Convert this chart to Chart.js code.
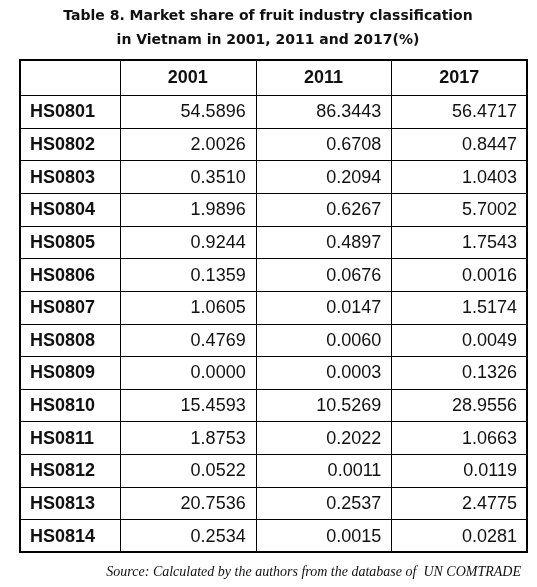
<!DOCTYPE html>
<html><head><meta charset="utf-8">
<script src="https://cdn.jsdelivr.net/npm/chart.js@4"></script>
<style>html,body{margin:0;padding:0;background:#fff}</style>
</head><body>
<canvas id="c" width="537" height="587" style="width:537px;height:587px"></canvas>
<script>
const titleLines = ["Table 8. Market share of fruit industry classification", "in Vietnam in 2001, 2011 and 2017(%)"];
const sourceText = "Source: Calculated by the authors from the database of  UN COMTRADE";
const years = ["2001", "2011", "2017"];
const codes = ["HS0801","HS0802","HS0803","HS0804","HS0805","HS0806","HS0807","HS0808","HS0809","HS0810","HS0811","HS0812","HS0813","HS0814"];
const share2001 = ["54.5896","2.0026","0.3510","1.9896","0.9244","0.1359","1.0605","0.4769","0.0000","15.4593","1.8753","0.0522","20.7536","0.2534"];
const share2011 = ["86.3443","0.6708","0.2094","0.6267","0.4897","0.0676","0.0147","0.0060","0.0003","10.5269","0.2022","0.0011","0.2537","0.0015"];
const share2017 = ["56.4717","0.8447","1.0403","5.7002","1.7543","0.0016","1.5174","0.0049","0.1326","28.9556","1.0663","0.0119","2.4775","0.0281"];
const columns = [share2001, share2011, share2017];

const tablePlugin = {
  id: 'table',
  afterDraw(chart) {
    const ctx = chart.ctx, xs = chart.scales.x, ys = chart.scales.y, a = chart.chartArea;
    const cw = (a.right - a.left) / years.length, rh = (a.bottom - a.top) / codes.length;
    const L = ys.left, T = xs.top;
    ctx.save();
    // title
    ctx.fillStyle = '#111'; ctx.textAlign = 'center'; ctx.textBaseline = 'middle';
    ctx.font = 'bold 14px "DejaVu Sans"';
    ctx.fillText(titleLines[0], 268, 16);
    ctx.fillText(titleLines[1], 268, 40);
    // source
    ctx.font = 'italic 14px "Liberation Serif"'; ctx.textAlign = 'right';
    ctx.fillText(sourceText, 521, 572);
    // grid
    ctx.strokeStyle = '#000'; ctx.lineWidth = 1;
    for (let i = 0; i <= codes.length; i++) {
      const y = Math.round(ys.getPixelForValue(i) - rh / 2) + 0.5;
      ctx.beginPath(); ctx.moveTo(L, y); ctx.lineTo(a.right, y); ctx.stroke();
    }
    for (let j = 0; j <= years.length; j++) {
      const x = Math.round(xs.getPixelForValue(j) - cw / 2) + 0.5;
      ctx.beginPath(); ctx.moveTo(x, T); ctx.lineTo(x, a.bottom); ctx.stroke();
    }
    ctx.lineWidth = 2;
    ctx.strokeRect(L, T, a.right - L, a.bottom - T);
    // headers
    ctx.font = 'bold 18px "Liberation Sans"'; ctx.textAlign = 'center';
    years.forEach((y, j) => ctx.fillText(y, xs.getPixelForValue(j), (T + a.top) / 2 + 1));
    // row labels
    ctx.textAlign = 'left';
    codes.forEach((c, i) => ctx.fillText(c, L + 10, ys.getPixelForValue(i) + 1));
    // values
    ctx.font = '18px "Liberation Sans"'; ctx.textAlign = 'right';
    columns.forEach((col, j) => col.forEach((v, i) =>
      ctx.fillText(v, xs.getPixelForValue(j) + cw / 2 - 10, ys.getPixelForValue(i) + 1)));
    ctx.restore();
  }
};

new Chart(document.getElementById('c'), {
  type: 'bar',
  data: { labels: years, datasets: [{ data: [], backgroundColor: 'transparent' }] },
  options: {
    responsive: false, animation: false,
    layout: { padding: { left: 20, right: 10, top: 60, bottom: 35 } },
    plugins: { legend: { display: false }, tooltip: { enabled: false }, title: { display: false } },
    scales: {
      x: { type: 'category', labels: years, position: 'top', offset: true,
           ticks: { display: false }, grid: { display: false }, border: { display: false },
           afterFit(s) { s.height = 35; } },
      y: { type: 'category', labels: codes, offset: true,
           ticks: { display: false }, grid: { display: false }, border: { display: false },
           afterFit(s) { s.width = 100; } }
    }
  },
  plugins: [tablePlugin]
});
</script>
</body></html>
